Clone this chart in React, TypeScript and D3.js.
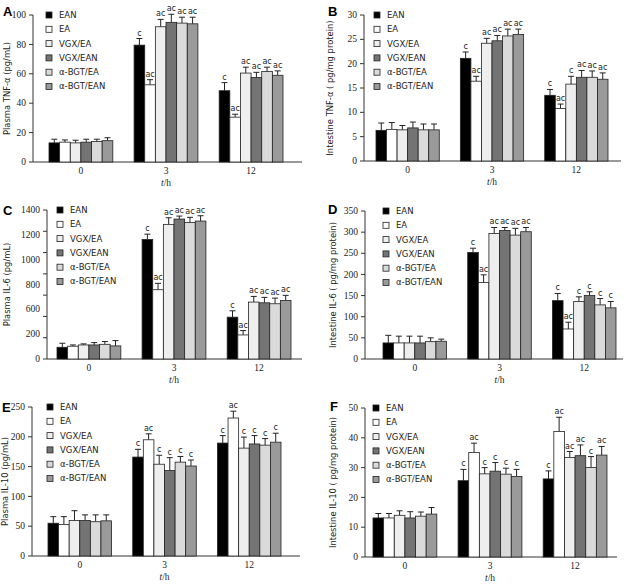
import React from "react";
import * as d3 from "d3";

const series = ["EAN", "EA", "VGX/EA", "VGX/EAN", "α-BGT/EA", "α-BGT/EAN"];
const groups = ["0", "3", "12"];
const seriesColors = ["#000000", "#ffffff", "#eeeeee", "#747474", "#dadada", "#9a9a9a"];

// Panel A: Plasma TNF-α
const plasmaTnfMean = [[13, 13.5, 13, 13.5, 14, 14.5], [79.5, 52.5, 92, 95, 94.5, 94], [48.5, 30.5, 60.5, 57.5, 61.5, 59]];
const plasmaTnfErr = [[2.5, 1.5, 1.8, 2, 1.5, 2], [4.5, 3.5, 5, 5.5, 4, 4.5], [5.5, 2, 4, 3.5, 3, 3]];
const plasmaTnfSig = [["", "", "", "", "", ""], ["c", "ac", "ac", "ac", "ac", "ac"], ["c", "ac", "ac", "ac", "ac", "ac"]];

// Panel B: Intestine TNF-α
const intTnfMean = [[6.3, 6.5, 6.4, 6.8, 6.4, 6.4], [21.1, 16.4, 24.2, 24.7, 25.7, 26.0], [13.5, 10.8, 15.8, 17.2, 17.2, 16.8]];
const intTnfErr = [[1.5, 1.4, 0.9, 1.2, 1.2, 1.2], [1.3, 1.0, 1.0, 1.1, 1.4, 1.1], [1.2, 0.9, 1.6, 1.4, 1.3, 1.3]];
const intTnfSig = [["", "", "", "", "", ""], ["c", "ac", "ac", "ac", "ac", "ac"], ["c", "ac", "c", "ac", "ac", "ac"]];

// Panel C: Plasma IL-6
const plasmaIl6Mean = [[110, 120, 132, 132, 138, 123], [1123, 651, 1265, 1315, 1283, 1296], [393, 226, 535, 528, 519, 550]];
const plasmaIl6Err = [[38, 12, 10, 22, 26, 50], [50, 60, 62, 28, 48, 50], [60, 41, 53, 51, 53, 48]];
const plasmaIl6Sig = [["", "", "", "", "", ""], ["c", "ac", "ac", "ac", "ac", "ac"], ["c", "ac", "ac", "ac", "ac", "ac"]];
const plasmaIl6TickLabels = ["0", "200", "600", "800", "1000", "1200", "1400"];

// Panel D: Intestine IL-6
const intIl6Mean = [[38, 38, 38, 38, 41, 42], [252, 181, 297, 304, 293, 301], [138, 71, 136, 150, 128, 121]];
const intIl6Err = [[18, 16, 16, 16, 9, 5], [10, 18, 14, 7, 16, 10], [17, 16, 11, 9, 15, 15]];
const intIl6Sig = [["", "", "", "", "", ""], ["c", "ac", "ac", "ac", "ac", "ac"], ["c", "ac", "c", "c", "c", "c"]];

// Panel E: Plasma IL-10
const plasmaIl10Mean = [[55, 53, 59.5, 59.5, 57.5, 59], [166, 195, 154, 143.5, 157.5, 151], [189.5, 231.5, 181, 188, 186, 191]];
const plasmaIl10Err = [[11, 13, 16.5, 9.5, 11.5, 10], [13, 10, 15, 21.5, 9.5, 10], [12.5, 11.5, 18.5, 14, 11, 15]];
const plasmaIl10Sig = [["", "", "", "", "", ""], ["c", "ac", "c", "c", "c", "c"], ["c", "ac", "c", "c", "c", "c"]];

// Panel F: Intestine IL-10
const intIl10Mean = [[13.1, 13.1, 14.0, 13.1, 13.7, 14.4], [25.6, 35.1, 27.9, 28.8, 27.8, 27.0], [26.2, 42.1, 33.4, 34.0, 30, 34.2]];
const intIl10Err = [[1.5, 1.5, 1.5, 2.1, 1.4, 2.2], [3.8, 3.1, 2.1, 2.9, 2.0, 2.4], [2.7, 4.8, 2.0, 3.6, 3.7, 2.9]];
const intIl10Sig = [["", "", "", "", "", ""], ["c", "ac", "c", "c", "c", "c"], ["c", "ac", "ac", "ac", "c", "ac"]];

const panels = [
  { letter: "A", title: "Plasma TNF-α (pg/mL)", mean: plasmaTnfMean, err: plasmaTnfErr, sig: plasmaTnfSig, max: 100, step: 20, tickLabels: null,
    axisX: 33, axisEnd: 302, yTop: 15, yBot: 162, band: [49, 283], labelX: 7.5, letterX: 3, letterY: 16, legendX: 46 },
  { letter: "B", title: "Intestine TNF-α ( pg/mg protein)", mean: intTnfMean, err: intTnfErr, sig: intTnfSig, max: 30, step: 5, tickLabels: null,
    axisX: 364, axisEnd: 621, yTop: 15, yBot: 161, band: [376, 608], labelX: 330, letterX: 328, letterY: 16, legendX: 374 },
  { letter: "C", title: "Plasma IL-6 (pg/mL)", mean: plasmaIl6Mean, err: plasmaIl6Err, sig: plasmaIl6Sig, max: 1400, step: 200, tickLabels: plasmaIl6TickLabels,
    axisX: 47, axisEnd: 302, yTop: 210, yBot: 359, band: [57, 291], labelX: 7, letterX: 3, letterY: 215, legendX: 57 },
  { letter: "D", title: "Intestine IL-6 ( pg/mg protein)", mean: intIl6Mean, err: intIl6Err, sig: intIl6Sig, max: 350, step: 50, tickLabels: null,
    axisX: 365, axisEnd: 623, yTop: 211, yBot: 359, band: [383, 616], labelX: 333, letterX: 328, letterY: 214, legendX: 383 },
  { letter: "E", title: "Plasma IL-10 (pg/mL)", mean: plasmaIl10Mean, err: plasmaIl10Err, sig: plasmaIl10Sig, max: 250, step: 50, tickLabels: null,
    axisX: 32, axisEnd: 300, yTop: 407, yBot: 556, band: [48, 281], labelX: 5, letterX: 2, letterY: 412, legendX: 47 },
  { letter: "F", title: "Intestine IL-10 ( pg/mg protein)", mean: intIl10Mean, err: intIl10Err, sig: intIl10Sig, max: 50, step: 10, tickLabels: null,
    axisX: 365, axisEnd: 617, yTop: 408, yBot: 557, band: [373, 607], labelX: 333, letterX: 330, letterY: 411, legendX: 373 },
];

const SANS = "DejaVu Sans, Verdana, sans-serif";
const SERIF = "Liberation Serif, Times New Roman, serif";
const AXIS = "#333";

function Panel({ p }: { p: any }) {
  const y = d3.scaleLinear().domain([0, p.max]).range([p.yBot, p.yTop]);
  const x0 = d3.scaleBand().domain(groups).range(p.band).paddingInner(0.25).paddingOuter(0);
  const x1 = d3.scaleBand().domain(series).range([0, x0.bandwidth()]);
  const ticks = d3.range(0, p.max + p.step / 2, p.step);
  const labelPos = p.tickLabels
    ? d3.scalePoint().domain(p.tickLabels).range([p.yBot, p.yTop])
    : null;
  const bw = x1.bandwidth();
  return (
    <g>
      <text x={p.letterX} y={p.letterY} fontFamily="Liberation Sans, Arial, sans-serif" fontWeight="bold" fontSize={13}>{p.letter}</text>
      {/* y axis */}
      <line x1={p.axisX} x2={p.axisX} y1={p.yTop} y2={p.yBot} stroke={AXIS} strokeWidth={1} />
      {ticks.map((t: number) => (
        <line key={"t" + t} x1={p.axisX - 4} x2={p.axisX} y1={y(t)} y2={y(t)} stroke={AXIS} strokeWidth={1} />
      ))}
      {p.tickLabels
        ? p.tickLabels.map((l: string) => (
            <text key={"l" + l} x={p.axisX - 7} y={labelPos!(l)} dy="0.33em" textAnchor="end" fontFamily={SERIF} fontSize={9.5} fill="#222">{l}</text>
          ))
        : ticks.map((t: number) => (
            <text key={"l" + t} x={p.axisX - 7} y={y(t)} dy="0.33em" textAnchor="end" fontFamily={SERIF} fontSize={9.5} fill="#222">{t}</text>
          ))}
      {/* x axis */}
      <line x1={p.axisX} x2={p.axisEnd} y1={p.yBot} y2={p.yBot} stroke={AXIS} strokeWidth={1} />
      {groups.map((g) => (
        <text key={"g" + g} x={x0(g)! + x0.bandwidth() / 2} y={p.yBot + 12} textAnchor="middle" fontFamily={SERIF} fontSize={9.5} fill="#222">{g}</text>
      ))}
      <text x={(x0(groups[1])! + x0.bandwidth() / 2)} y={p.yBot + 24} textAnchor="middle" fontFamily={SERIF} fontSize={9.5} fill="#222">
        <tspan fontStyle="italic">t</tspan>/h
      </text>
      {/* y label */}
      <text transform={`translate(${p.labelX},${(p.yTop + p.yBot) / 2}) rotate(-90)`} textAnchor="middle" dy="0.35em" fontFamily={SANS} fontSize={8.4} fill="#222">{p.title}</text>
      {/* bars */}
      {groups.map((g, gi) => (
        <g key={"bg" + g} transform={`translate(${x0(g)},0)`}>
          {series.map((s, si) => {
            const v = p.mean[gi][si];
            const e = p.err[gi][si];
            const bx = x1(s)!;
            const cx = bx + bw / 2;
            const top = y(v + e);
            return (
              <g key={s}>
                <line x1={cx} x2={cx} y1={y(v)} y2={top} stroke="#222" strokeWidth={1} />
                <line x1={cx - 3} x2={cx + 3} y1={top} y2={top} stroke="#222" strokeWidth={1} />
                <rect x={bx} y={y(v)} width={bw} height={p.yBot - y(v)} fill={seriesColors[si]} stroke="#222" strokeWidth={0.8} />
                {p.sig[gi][si] && (
                  <text x={cx} y={top - 3} textAnchor="middle" fontFamily={SANS} fontSize={8} fill="#222">{p.sig[gi][si]}</text>
                )}
              </g>
            );
          })}
        </g>
      ))}
      {/* legend */}
      {series.map((s, si) => {
        const cy = p.yTop + si * 14.3;
        return (
          <g key={"lg" + s}>
            <rect x={p.legendX} y={cy - 3} width={6} height={6} fill={seriesColors[si]} stroke="#222" strokeWidth={0.8} />
            <text x={p.legendX + 13} y={cy} dy="0.35em" fontFamily={SANS} fontSize={8.5} fill="#222">{s}</text>
          </g>
        );
      })}
    </g>
  );
}

export default function App() {
  return (
    <svg width={630} height={584} style={{ position: "absolute", left: 0, top: 0, background: "#fff" }}>
      <rect width={630} height={584} fill="#fff" />
      {panels.map((p) => (
        <Panel key={p.letter} p={p} />
      ))}
    </svg>
  );
}
